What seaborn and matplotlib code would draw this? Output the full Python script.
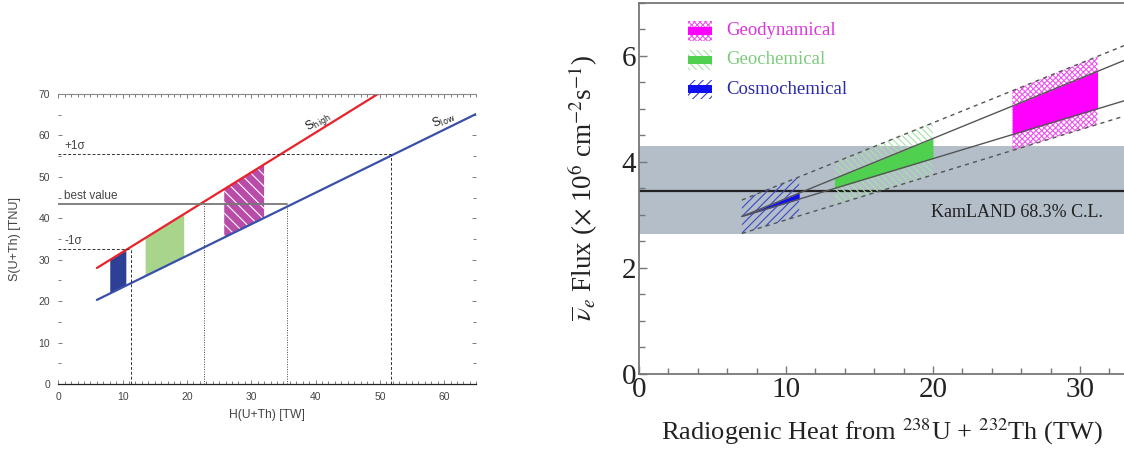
"""
Two geoneutrino panels: expected signal vs radiogenic heat (left) and
KamLAND flux vs radiogenic heat with Earth-model bands (right).
"""
import matplotlib
matplotlib.use("Agg")
import matplotlib.pyplot as plt
import seaborn as sns
import numpy as np
from matplotlib.patches import Rectangle
from matplotlib.ticker import MultipleLocator

# ---- left panel data (signal in TNU vs heat in TW) ----
high_heat = [6.0, 49.7]
high_signal = [28.0, 70.0]
low_heat = [6.0, 65.0]
low_signal = [20.3, 65.2]

best_signal = 43.5
best_heat = [22.7, 35.5]
minus_sigma = 32.7
minus_sigma_heat = 11.3
plus_sigma = 55.6
plus_sigma_heat = 51.7

left_cosmo = [8.0, 10.5]
left_geochem = [13.5, 19.5]
left_geodyn = [25.8, 32.0]

# ---- right panel data (flux vs heat) ----
line_heat = [7.0, 33.0]
upper_model = [2.97, 5.91]
lower_model = [2.97, 5.15]
upper_err = [3.28, 6.19]
lower_err = [2.65, 4.86]

kamland_band = [2.63, 4.29]
kamland_best = 3.45

right_cosmo = [7.0, 10.9]
right_geochem = [13.3, 20.0]
right_geodyn = [25.4, 31.2]

model_names = ["Geodynamical", "Geochemical", "Cosmochemical"]
model_solid = ["#ff00ff", "#4fd04f", "#1010ee"]
model_hatch = ["#ee55ee", "#a6e3a6", "#3a48c8"]
model_text = ["#dd33dd", "#7ccc7c", "#2a2aa8"]
model_pattern = ["xxxxxx", "\\\\\\\\\\", "////"]

sns.set_theme(style="ticks")
plt.rcParams["font.family"] = ["Liberation Sans", "DejaVu Sans"]
plt.rcParams["hatch.linewidth"] = 0.8

fig = plt.figure(figsize=(11.24, 4.51), dpi=100)
W, H = 1124, 451
ax1 = fig.add_axes([58.3 / W, (H - 384) / H, 418 / W, 290 / H])
ax2 = fig.add_axes([639 / W, (H - 374) / H, 485 / W, 371.3 / H])

# ================= left panel =================
grey_txt = "#444444"
sns.lineplot(x=high_heat, y=high_signal, ax=ax1, color="#e8232b", lw=1.6)
sns.lineplot(x=low_heat, y=low_signal, ax=ax1, color="#3a50a8", lw=1.6)


def band(ax, xr, lo_x, lo_y, hi_x, hi_y, **kw):
    xs = np.array(xr)
    ax.fill_between(xs, np.interp(xs, lo_x, lo_y), np.interp(xs, hi_x, hi_y), **kw)


band(ax1, left_cosmo, low_heat, low_signal, high_heat, high_signal,
     color="#2e3f96", lw=0)
band(ax1, left_geochem, low_heat, low_signal, high_heat, high_signal,
     color="#a8d48c", lw=0)
band(ax1, left_geodyn, low_heat, low_signal, high_heat, high_signal,
     facecolor="#b84ca8", edgecolor="white", hatch="\\\\\\", lw=0)

ax1.plot([0, plus_sigma_heat], [plus_sigma, plus_sigma], color="#333333",
         ls=(0, (3, 2)), lw=0.7)
ax1.plot([plus_sigma_heat, plus_sigma_heat], [0, plus_sigma], color="#333333",
         ls=(0, (3, 2)), lw=0.7)
ax1.plot([0, minus_sigma_heat], [minus_sigma, minus_sigma], color="#333333",
         ls=(0, (3, 2)), lw=0.7)
ax1.plot([minus_sigma_heat, minus_sigma_heat], [0, minus_sigma], color="#333333",
         ls=(0, (3, 2)), lw=0.7)
ax1.plot([0, best_heat[1]], [best_signal, best_signal], color="#777777", lw=1.3)
for bx in best_heat:
    ax1.plot([bx, bx], [0, best_signal], color="#444444", ls=(0, (1, 1.5)), lw=0.7)

ax1.text(1.0, plus_sigma + 1.9, "+1σ", fontsize=8.5, color=grey_txt, va="center")
ax1.text(0.9, best_signal + 2.0, "best value", fontsize=8.5, color=grey_txt, va="center")
ax1.text(1.0, minus_sigma + 1.9, "-1σ", fontsize=8.5, color=grey_txt, va="center")
ax1.text(40.4, 63.4, r"S$_{\mathrm{high}}$", fontsize=8.5, color="#222222",
         rotation=31, ha="center", va="center", math_fontfamily="dejavusans")
ax1.text(59.9, 63.6, r"S$_{\mathrm{low}}$", fontsize=8.5, color="#222222",
         rotation=24, ha="center", va="center", math_fontfamily="dejavusans")

ax1.set_xlim(0, 65)
ax1.set_ylim(0, 70)
ax1.xaxis.set_major_locator(MultipleLocator(10))
ax1.xaxis.set_minor_locator(MultipleLocator(1))
ax1.yaxis.set_major_locator(MultipleLocator(10))
ax1.yaxis.set_minor_locator(MultipleLocator(5))
ax1.tick_params(which="both", direction="in", top=True, right=True,
                color="#666666", labelcolor=grey_txt, labelsize=7.5, width=0.6)
ax1.tick_params(which="major", length=3, pad=6)
ax1.tick_params(which="minor", length=2)
for side in ["left", "right"]:
    ax1.spines[side].set_visible(False)
ax1.spines["top"].set_color("#888888")
ax1.spines["top"].set_linewidth(0.8)
ax1.spines["bottom"].set_color("#222222")
ax1.spines["bottom"].set_linewidth(0.9)
ax1.set_xlabel("H(U+Th) [TW]", fontsize=8.7, color=grey_txt, va="center")
ax1.set_ylabel("S(U+Th) [TNU]", fontsize=9, color=grey_txt, va="center")
ax1.xaxis.set_label_coords(0.5, -0.107)
ax1.yaxis.set_label_coords(-0.104, 0.5)

# ================= right panel =================
serif = ["Liberation Serif", "DejaVu Serif"]
ax2.axhspan(kamland_band[0], kamland_band[1], color="#b3bec8", lw=0, zorder=0)
ax2.axhline(kamland_best, color="#222222", lw=1.6, zorder=1)

regions = [right_geodyn, right_geochem, right_cosmo]
for xr, solid, hcol, pat in zip(regions, model_solid, model_hatch, model_pattern):
    band(ax2, xr, line_heat, lower_err, line_heat, upper_err,
         facecolor="none", edgecolor=hcol, hatch=pat, lw=0, zorder=2)
    band(ax2, xr, line_heat, lower_model, line_heat, upper_model,
         color=solid, lw=0, zorder=3)

for yy in [upper_model, lower_model]:
    sns.lineplot(x=line_heat, y=yy, ax=ax2, color="#555555", lw=1.0, zorder=4)
for yy in [upper_err, lower_err]:
    sns.lineplot(x=line_heat, y=yy, ax=ax2, color="#555555", lw=1.0,
                 ls=(0, (3, 3)), zorder=4)

ax2.text(19.9, 3.05, "KamLAND 68.3% C.L.", fontsize=13, family=serif,
         color="#222222", va="center", ha="left")

# legend drawn by hand: hatched box with a solid bar through the middle
rows = [0.924, 0.846, 0.767]
for yc, name, solid, hcol, tcol, pat in zip(rows, model_names, model_solid,
                                            model_hatch, model_text, model_pattern):
    ax2.add_patch(Rectangle((0.100, yc - 0.026), 0.05, 0.052, transform=ax2.transAxes,
                            facecolor="white", edgecolor=hcol, hatch=pat, lw=0))
    ax2.add_patch(Rectangle((0.100, yc - 0.011), 0.05, 0.022, transform=ax2.transAxes,
                            color=solid, lw=0))
    ax2.text(0.179, yc, name, transform=ax2.transAxes, fontsize=13.5, family=serif,
             color=tcol, va="center", ha="left")

ax2.set_xlim(0, 33)
ax2.set_ylim(0, 7)
ax2.xaxis.set_major_locator(MultipleLocator(10))
ax2.xaxis.set_minor_locator(MultipleLocator(2))
ax2.yaxis.set_major_locator(MultipleLocator(2))
ax2.yaxis.set_minor_locator(MultipleLocator(0.5))
ax2.tick_params(which="both", direction="in", color="#777777", width=1.0,
                labelsize=21, labelcolor="#222222")
ax2.tick_params(which="major", length=6, pad=2)
ax2.tick_params(which="minor", length=4)
for lab in ax2.get_xticklabels() + ax2.get_yticklabels():
    lab.set_family(serif)
ax2.spines["right"].set_visible(False)
for side in ["top", "left", "bottom"]:
    ax2.spines[side].set_color("#777777")
    ax2.spines[side].set_linewidth(1.3)

ax2.set_xlabel(r"Radiogenic Heat from $^{238}$U + $^{232}$Th (TW)", fontsize=19,
               family=serif, color="#222222", math_fontfamily="stix", va="center")
ax2.set_ylabel(r"$\overline{\nu}_{e}$ Flux ($\times$ 10$^{6}$ cm$^{-2}$s$^{-1}$)",
               fontsize=19.5, family=serif, color="#222222", math_fontfamily="stix",
               va="center")
ax2.xaxis.set_label_coords(0.5, -0.155)
ax2.yaxis.set_label_coords(-0.115, 0.5)

fig.savefig("out.png", dpi=100)
